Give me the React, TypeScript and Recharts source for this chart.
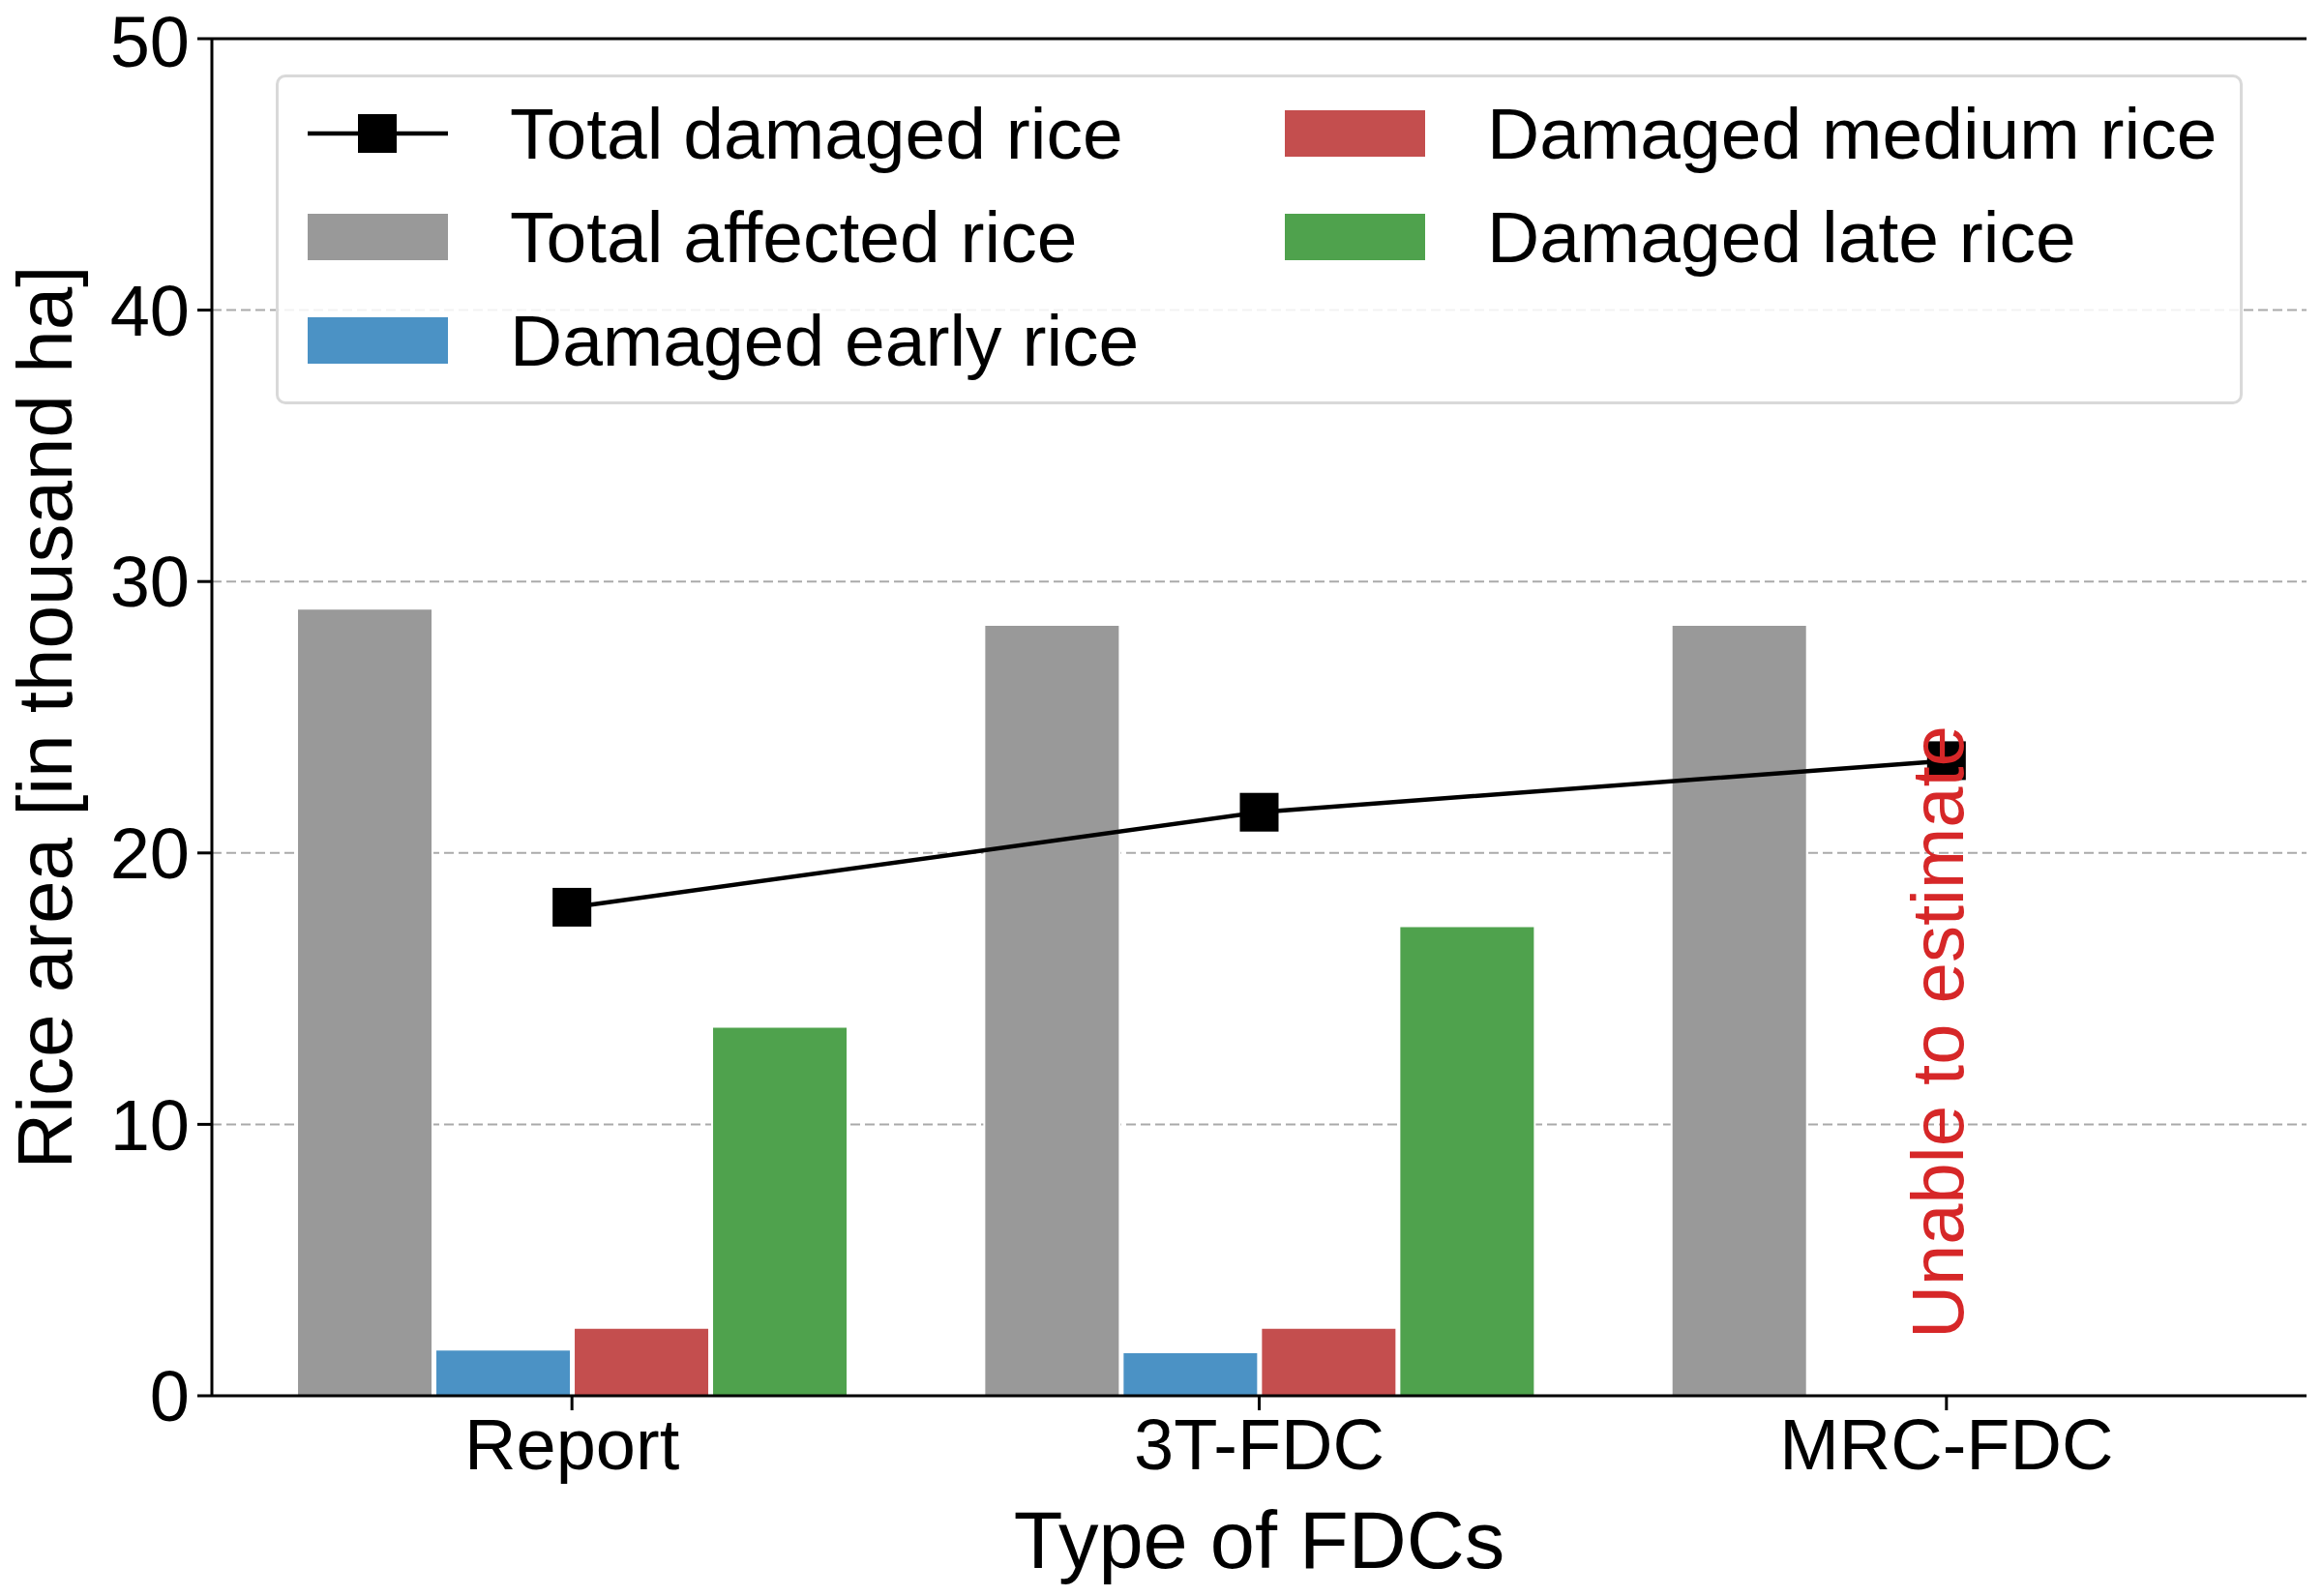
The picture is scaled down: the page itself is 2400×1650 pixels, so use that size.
import React from "react";
import { ComposedChart, Bar, Line, XAxis, YAxis, CartesianGrid, ReferenceDot, ReferenceLine } from "recharts";

const categories = ["Report", "3T-FDC", "MRC-FDC"];
const totalAffected = [29.0, 28.4, 28.4];
const earlyRice = [1.7, 1.6, null];
const mediumRice = [2.5, 2.5, null];
const lateRice = [13.6, 17.3, null];
const totalDamaged = [18.0, 21.5, 23.4];
const yTicks = [0, 10, 20, 30, 40, 50];

const data = categories.map((c, i) => ({
  name: c,
  affected: totalAffected[i],
  early: earlyRice[i],
  medium: mediumRice[i],
  late: lateRice[i],
  damaged: totalDamaged[i],
}));

const FONT = "Arial, 'Liberation Sans', sans-serif";
const C = { gray: "#999999", blue: "#4b92c5", red: "#c44e4e", green: "#4fa24d" };

const Square = (props: any) => {
  const { cx, cy } = props;
  if (cx == null || cy == null) return null;
  return <rect x={cx - 20} y={cy - 20} width={40} height={40} fill="#000" />;
};

const LegendBox = () => {
  const item = (label: string, kind: string, color: string) => (
    <div style={{ display: "flex", alignItems: "center", height: 107 }}>
      <svg width={145} height={50} style={{ marginRight: 64 }}>
        {kind === "line" ? (
          <g>
            <line x1={0} y1={25} x2={145} y2={25} stroke="#000" strokeWidth={4.5} />
            <rect x={52} y={5} width={40} height={40} fill="#000" />
          </g>
        ) : (
          <rect x={0} y={1} width={145} height={48} fill={color} />
        )}
      </svg>
      <span style={{ fontSize: 75, fontFamily: FONT, color: "#000", whiteSpace: "nowrap" }}>{label}</span>
    </div>
  );
  return (
    <div
      style={{
        position: "absolute",
        left: 285,
        top: 77,
        width: 2033,
        height: 341,
        boxSizing: "border-box",
        border: "3px solid #d9d9d9",
        borderRadius: 10,
        background: "rgba(255,255,255,0.85)",
        display: "flex",
        padding: "4px 0 0 30px",
      }}
    >
      <div style={{ width: 1010 }}>
        {item("Total damaged rice", "line", "#000")}
        {item("Total affected rice", "rect", C.gray)}
        {item("Damaged early rice", "rect", C.blue)}
      </div>
      <div>
        {item("Damaged medium rice", "rect", C.red)}
        {item("Damaged late rice", "rect", C.green)}
      </div>
    </div>
  );
};

const UnableText = (props: any) => {
  const { cx, cy } = props;
  if (cx == null) return null;
  const x = cx - 9;
  return (
    <text
      x={x}
      y={cy}
      transform={`rotate(-90, ${x}, ${cy})`}
      textAnchor="middle"
      dominantBaseline="central"
      fill="#d62728"
      fontSize={76}
      fontFamily={FONT}
    >
      Unable to estimate
    </text>
  );
};

const YTitle = (props: any) => {
  const vb = props.viewBox || {};
  const cy = (vb.y || 0) + (vb.height || 0) / 2;
  return (
    <text x={46} y={cy} transform={`rotate(-90, 46, ${cy})`} textAnchor="middle" dominantBaseline="central" fontSize={80} fill="#000" fontFamily={FONT}>
      Rice area [in thousand ha]
    </text>
  );
};

const XTitle = (props: any) => {
  const vb = props.viewBox || {};
  const cx = (vb.x || 0) + (vb.width || 0) / 2;
  return (
    <text x={cx} y={1592} textAnchor="middle" dominantBaseline="central" fontSize={83} fill="#000" fontFamily={FONT}>
      Type of FDCs
    </text>
  );
};

export default function App() {
  return (
    <div style={{ position: "absolute", left: 0, top: 0, width: 2400, height: 1650, background: "#fff" }}>
      <ComposedChart
        width={2400}
        height={1650}
        data={data}
        margin={{ top: 40, right: 16, left: 0, bottom: 0 }}
        barCategoryGap="10%"
        barGap={3}
      >
        <CartesianGrid vertical={false} stroke="#aaaaaa" strokeDasharray="10 5" strokeWidth={2} />
        <XAxis
          dataKey="name"
          height={207}
          padding={{ left: 17, right: 17 }}
          tick={{ fontSize: 74, fill: "#000", fontFamily: FONT }}
          tickSize={15}
          tickMargin={8}
          stroke="#000"
          strokeWidth={3}
          label={<XTitle />}
        />
        <YAxis
          width={219}
          domain={[0, 50]}
          ticks={yTicks}
          tick={{ fontSize: 74, fill: "#000", fontFamily: FONT }}
          tickSize={15}
          tickMargin={8}
          stroke="#000"
          strokeWidth={3}
          label={<YTitle />}
        />
        <YAxis yAxisId="r" orientation="right" width={0} domain={[0, 50]} tick={false} tickLine={false} stroke="#000" strokeWidth={3} />
        <ReferenceLine y={50} stroke="#000" strokeWidth={3} />
        <Bar dataKey="affected" fill={C.gray} stroke="#fff" strokeWidth={2} isAnimationActive={false} />
        <Bar dataKey="early" fill={C.blue} stroke="#fff" strokeWidth={2} isAnimationActive={false} />
        <Bar dataKey="medium" fill={C.red} stroke="#fff" strokeWidth={2} isAnimationActive={false} />
        <Bar dataKey="late" fill={C.green} stroke="#fff" strokeWidth={2} isAnimationActive={false} />
        <Line dataKey="damaged" stroke="#000" strokeWidth={4.5} dot={<Square />} activeDot={false} isAnimationActive={false} />
        <ReferenceDot x="MRC-FDC" y={13.4} r={0} shape={<UnableText />} />
      </ComposedChart>
      <LegendBox />
    </div>
  );
}
